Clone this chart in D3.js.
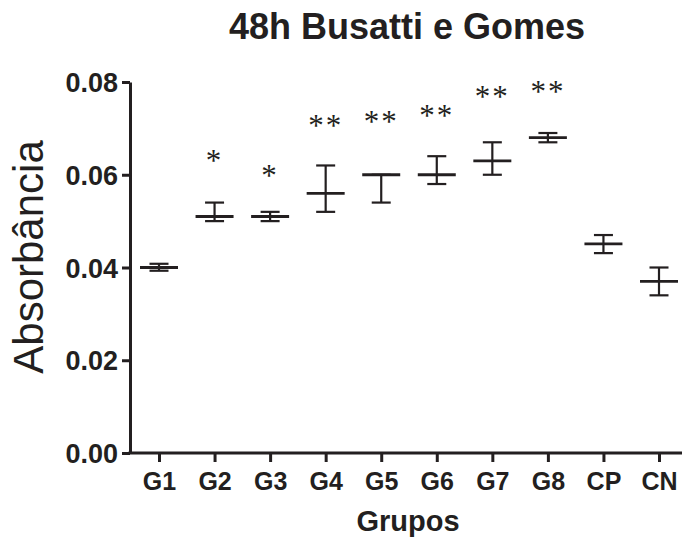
<!DOCTYPE html>
<html>
<head>
<meta charset="utf-8">
<script src="https://cdn.jsdelivr.net/npm/d3@7"></script>
<style>
  body { margin: 0; background: #fff; }
  svg text { fill: #231f20; }
</style>
</head>
<body>
<div id="chart"></div>
<script>
// groups, means and error bar ends
const groups = ['G1', 'G2', 'G3', 'G4', 'G5', 'G6', 'G7', 'G8', 'CP', 'CN']
const means  = [0.0400, 0.0510, 0.0510, 0.0560, 0.0600, 0.0600, 0.0630, 0.0680, 0.0451, 0.0370]
const upper  = [0.0408, 0.0540, 0.0520, 0.0620, 0.0600, 0.0640, 0.0670, 0.0690, 0.0470, 0.0400]
const lower  = [0.0393, 0.0500, 0.0500, 0.0520, 0.0540, 0.0580, 0.0600, 0.0670, 0.0431, 0.0340]
// significance marks and the value where each sits
const stars    = ['', '*', '*', '**', '**', '**', '**', '**', '', '']
const starPos  = [0, 0.0633, 0.0601, 0.0709, 0.0718, 0.0731, 0.0773, 0.0783, 0, 0]
const yTicks = [0, 0.02, 0.04, 0.06, 0.08]

var fullWidth = 682;
var fullHeight = 541;

var svg = d3.select('#chart').append('svg')
  .attr('width', fullWidth)
  .attr('height', fullHeight)
  .style('font-family', 'Liberation Sans, Arial, sans-serif');

var x = d3.scalePoint().domain(groups).range([159, 659]);
var y = d3.scaleLinear().domain([0, 0.08]).range([453, 82]);

var data = groups.map(function(g, i) {
  return {g: g, mean: means[i], hi: upper[i], lo: lower[i], star: stars[i], sp: starPos[i]}
});

// y axis
var yAxis = svg.append('g')
  .attr('transform', 'translate(130,0)')
  .call(d3.axisLeft(y).tickValues(yTicks).tickFormat(d3.format('.2f')).tickSize(8).tickSizeOuter(0).tickPadding(4));
yAxis.select('.domain').attr('stroke-width', 3).attr('stroke', '#231f20');
yAxis.selectAll('.tick line').attr('stroke-width', 3).attr('stroke', '#231f20');
yAxis.selectAll('.tick text').attr('font-size', 27).attr('font-weight', 'bold').attr('dy', '0.36em');

// x axis
var xAxis = svg.append('g')
  .attr('transform', 'translate(0,453)')
  .call(d3.axisBottom(x).tickSize(9).tickSizeOuter(0).tickPadding(6));
xAxis.select('.domain').attr('d', 'M128.5,0H682').attr('stroke-width', 3).attr('stroke', '#231f20');
xAxis.selectAll('.tick line').attr('stroke-width', 3).attr('stroke', '#231f20');
xAxis.selectAll('.tick text').attr('font-size', 25).attr('font-weight', 'bold')
  .attr('dy', null).attr('y', 37);

// error bars
var bars = svg.selectAll('.bar').data(data)
  .enter().append('g')
  .attr('class', 'bar')
  .attr('stroke', '#231f20');

bars.append('line')
  .attr('x1', function(d) { return x(d.g) }).attr('x2', function(d) { return x(d.g) })
  .attr('y1', function(d) { return y(d.hi) }).attr('y2', function(d) { return y(d.lo) })
  .attr('stroke-width', 2.2);
bars.append('line')
  .attr('x1', function(d) { return x(d.g) - 9.5 }).attr('x2', function(d) { return x(d.g) + 9.5 })
  .attr('y1', function(d) { return y(d.hi) }).attr('y2', function(d) { return y(d.hi) })
  .attr('stroke-width', 2.2);
bars.append('line')
  .attr('x1', function(d) { return x(d.g) - 9.5 }).attr('x2', function(d) { return x(d.g) + 9.5 })
  .attr('y1', function(d) { return y(d.lo) }).attr('y2', function(d) { return y(d.lo) })
  .attr('stroke-width', 2.2);
bars.append('line')
  .attr('x1', function(d) { return x(d.g) - 19 }).attr('x2', function(d) { return x(d.g) + 19 })
  .attr('y1', function(d) { return y(d.mean) }).attr('y2', function(d) { return y(d.mean) })
  .attr('stroke-width', 2.8);

// stars
svg.selectAll('.star').data(data.filter(function(d) { return d.star }))
  .enter().append('text')
  .attr('class', 'star')
  .attr('x', function(d) { return x(d.g) })
  .attr('y', function(d) { return y(d.sp) + 12 })
  .attr('text-anchor', 'middle')
  .attr('font-family', 'Liberation Serif, serif')
  .attr('font-size', 31)
  .attr('letter-spacing', 2)
  .text(function(d) { return d.star });

// title and axis labels
svg.append('text')
  .attr('x', 407).attr('y', 39)
  .attr('text-anchor', 'middle')
  .attr('font-size', 36).attr('font-weight', 'bold')
  .text('48h Busatti e Gomes');

svg.append('text')
  .attr('x', 408).attr('y', 531)
  .attr('text-anchor', 'middle')
  .attr('font-size', 29).attr('font-weight', 'bold')
  .text('Grupos');

svg.append('text')
  .attr('transform', 'translate(43,257) rotate(-90)')
  .attr('text-anchor', 'middle')
  .attr('font-size', 42)
  .text('Absorbância');
</script>
</body>
</html>
